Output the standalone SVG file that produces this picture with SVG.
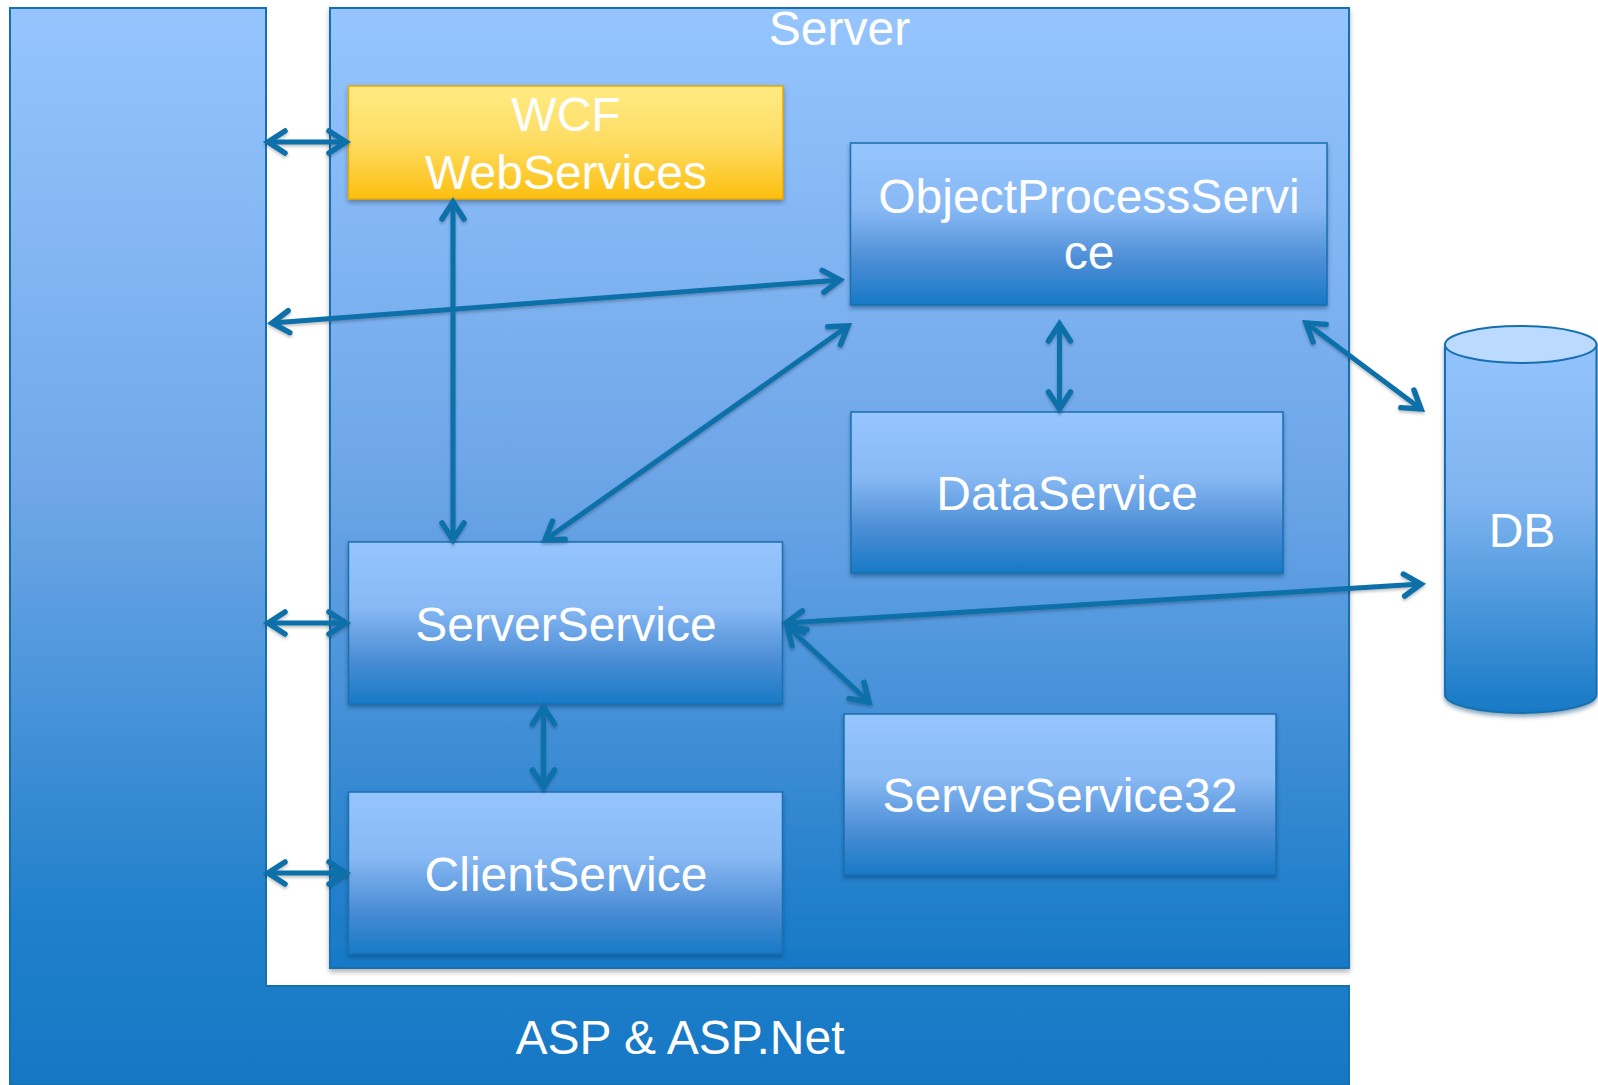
<svg xmlns="http://www.w3.org/2000/svg" width="1598" height="1085" viewBox="0 0 1598 1085">
<style>
  .lbl{font-family:"Liberation Sans",Arial,sans-serif;font-size:48px;fill:#ffffff;text-anchor:middle}
  .node{fill:url(#gNode);stroke:#1a6fb0;stroke-width:1.5;filter:url(#shadow)}
  .con{fill:none;stroke:#0b6fa8;stroke-width:5;marker-start:url(#arr);marker-end:url(#arr)}
</style>
<defs>
  <linearGradient id="gBack" gradientUnits="userSpaceOnUse" x1="0" y1="8" x2="0" y2="1085">
    <stop offset="0" stop-color="#96c5fe"/>
    <stop offset="0.45" stop-color="#6fa7e8"/>
    <stop offset="0.85" stop-color="#1f7fca"/>
    <stop offset="1" stop-color="#1678c5"/>
  </linearGradient>
  <linearGradient id="gServer" gradientUnits="userSpaceOnUse" x1="0" y1="8" x2="0" y2="968">
    <stop offset="0" stop-color="#96c5fe"/>
    <stop offset="0.5" stop-color="#6ca5e7"/>
    <stop offset="1" stop-color="#1679c6"/>
  </linearGradient>
  <linearGradient id="gNode" x1="0" y1="0" x2="0" y2="1">
    <stop offset="0" stop-color="#96c5ff"/>
    <stop offset="0.4" stop-color="#88b9f4"/>
    <stop offset="0.72" stop-color="#4d8ed6"/>
    <stop offset="1" stop-color="#1779c6"/>
  </linearGradient>
  <linearGradient id="gWcf" x1="0" y1="0" x2="0" y2="1">
    <stop offset="0" stop-color="#ffeb84"/>
    <stop offset="0.5" stop-color="#fedc62"/>
    <stop offset="1" stop-color="#fdbf10"/>
  </linearGradient>
  <linearGradient id="gDb" gradientUnits="userSpaceOnUse" x1="0" y1="326" x2="0" y2="713">
    <stop offset="0" stop-color="#96c5fe"/>
    <stop offset="0.45" stop-color="#7fb4f0"/>
    <stop offset="1" stop-color="#1779c6"/>
  </linearGradient>
  <filter id="shadow" x="-5%" y="-5%" width="110%" height="115%">
    <feDropShadow dx="0" dy="3" stdDeviation="2" flood-color="#0a3a66" flood-opacity="0.45"/>
  </filter>
  <filter id="shadowG" x="-5%" y="-5%" width="110%" height="115%">
    <feDropShadow dx="0" dy="3" stdDeviation="2.5" flood-color="#000000" flood-opacity="0.3"/>
  </filter>
  <filter id="shadowC" x="-10%" y="-10%" width="120%" height="120%">
    <feDropShadow dx="0" dy="2" stdDeviation="1.5" flood-color="#000000" flood-opacity="0.25"/>
  </filter>
  <marker id="arr" markerUnits="userSpaceOnUse" markerWidth="44" markerHeight="44" viewBox="-22 -22 44 44" refX="0" refY="0" orient="auto-start-reverse">
    <path d="M-17,-11 L0,0 L-17,11" fill="none" stroke="#0b6fa8" stroke-width="5.5" stroke-linecap="round" stroke-linejoin="miter"/>
  </marker>
</defs>

<g id="asp">
  <path d="M10,8 H266 V986 H1349 V1085 H10 Z" fill="url(#gBack)" stroke="#1670b0" stroke-width="2"/>
  <text class="lbl" x="680" y="1054">ASP &amp; ASP.Net</text>
</g>

<g id="server">
  <rect x="330" y="8" width="1019" height="960" fill="url(#gServer)" stroke="#1670b0" stroke-width="2" filter="url(#shadowG)"/>
  <text class="lbl" x="839.5" y="45">Server</text>
</g>

<g id="wcf">
  <rect x="348.5" y="86" width="434.5" height="113" fill="url(#gWcf)" stroke="#e5a700" stroke-width="1.5" filter="url(#shadowG)"/>
  <text class="lbl" x="566" y="131">WCF</text>
  <text class="lbl" x="566" y="189">WebServices</text>
</g>

<g id="ops">
  <rect class="node" x="850.5" y="143" width="476.5" height="162"/>
  <text class="lbl" x="1089" y="213">ObjectProcessServi</text>
  <text class="lbl" x="1089" y="269">ce</text>
</g>

<g id="dataservice">
  <rect class="node" x="851" y="412" width="432" height="161"/>
  <text class="lbl" x="1067" y="510">DataService</text>
</g>

<g id="serverservice">
  <rect class="node" x="348.5" y="542" width="434" height="162"/>
  <text class="lbl" x="566" y="641">ServerService</text>
</g>

<g id="serverservice32">
  <rect class="node" x="844" y="714" width="432" height="161"/>
  <text class="lbl" x="1060" y="812">ServerService32</text>
</g>

<g id="clientservice">
  <rect class="node" x="348.5" y="792" width="434" height="162"/>
  <text class="lbl" x="566" y="891">ClientService</text>
</g>

<g id="db">
  <path d="M1445,344.5 V694.5 A75.75,18.5 0 0 0 1596.5,694.5 V344.5 Z" fill="url(#gDb)" stroke="#1670b0" stroke-width="2" filter="url(#shadow)"/>
  <ellipse cx="1520.75" cy="344.5" rx="75.75" ry="18.5" fill="#bcdaff" stroke="#1670b0" stroke-width="2"/>
  <text class="lbl" x="1522" y="547">DB</text>
</g>

<g id="connectors" filter="url(#shadowC)">
  <line class="con" x1="268" y1="142" x2="346" y2="142"/>
  <line class="con" x1="272" y1="323" x2="840" y2="280"/>
  <line class="con" x1="453" y1="202" x2="453" y2="540"/>
  <line class="con" x1="848" y1="326" x2="545" y2="540"/>
  <line class="con" x1="1059.5" y1="324" x2="1059.5" y2="409"/>
  <line class="con" x1="1306" y1="323" x2="1421" y2="409"/>
  <line class="con" x1="268" y1="623" x2="346" y2="623"/>
  <line class="con" x1="786" y1="623" x2="1421" y2="584"/>
  <line class="con" x1="787" y1="626" x2="869" y2="702"/>
  <line class="con" x1="543.5" y1="707" x2="543.5" y2="787"/>
  <line class="con" x1="268" y1="873" x2="346" y2="873"/>
</g>
</svg>
